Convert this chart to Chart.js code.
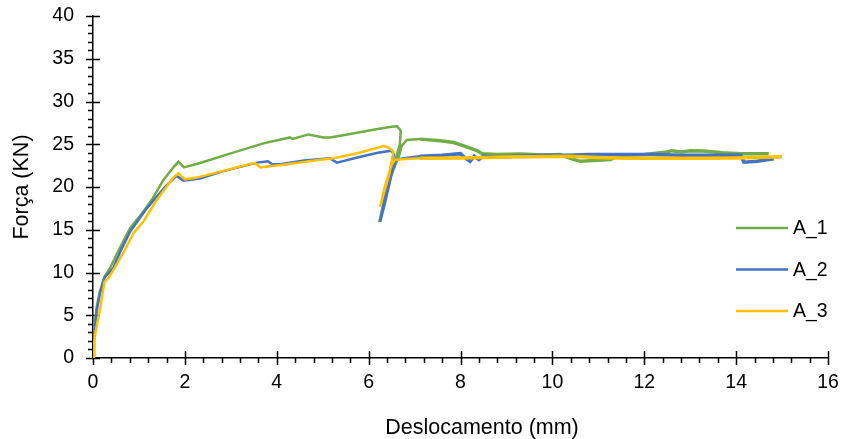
<!DOCTYPE html>
<html>
<head>
<meta charset="utf-8">
<script src="https://cdn.jsdelivr.net/npm/chart.js@4.4.1/dist/chart.umd.min.js"></script>
<style>
  html, body { margin: 0; padding: 0; background: #fff; }
  #wrap { width: 846px; height: 439px; position: relative; }
</style>
</head>
<body>
<div id="wrap"><canvas id="forceChart" width="846" height="439"></canvas></div>
<script>
// values (displacement mm / force kN)
const labelsSeries = ['A_1', 'A_2', 'A_3'];
const colors = ['#70AD47', '#4472C4', '#FFC000'];

const a1X = [0, 0.02, 0.08, 0.15, 0.25, 0.37, 0.55, 0.81, 1.05, 1.28, 1.53, 1.75, 1.86, 1.98, 2.33, 2.98, 3.71, 4.29, 4.33, 4.36, 4.69, 5.02, 5.16, 5.6, 6.1, 6.5, 6.62, 6.7, 6.68, 6.6, 6.4, 6.23, 6.3, 6.5, 6.66, 6.72, 6.83, 7.12, 7.56, 7.85, 8.07, 8.36, 8.47, 8.8, 9.3, 9.8, 10.17, 10.39, 10.61, 11.26, 11.48, 12.0, 12.5, 12.6, 12.8, 13.0, 13.29, 13.7, 14.1, 14.71];
const a1Y = [0, 3, 6, 7.8, 9.5, 10.5, 12.5, 15.2, 16.8, 18.5, 20.8, 22.3, 22.96, 22.3, 22.8, 23.9, 25.1, 25.8, 25.65, 25.65, 26.15, 25.8, 25.8, 26.2, 26.7, 27.05, 27.1, 26.6, 25.0, 23.5, 19.5, 15.9, 17.5, 21.5, 23.6, 24.8, 25.5, 25.6, 25.4, 25.2, 24.8, 24.25, 23.9, 23.8, 23.85, 23.75, 23.8, 23.35, 23.0, 23.2, 23.7, 23.8, 24.1, 24.25, 24.1, 24.25, 24.2, 24.0, 23.9, 23.9];

const a2X = [0, 0.02, 0.08, 0.15, 0.25, 0.44, 0.6, 0.81, 1.17, 1.6, 1.82, 1.97, 2.33, 2.8, 3.57, 3.81, 3.89, 4.07, 4.6, 5.16, 5.31, 5.8, 6.2, 6.5, 6.55, 6.45, 6.25, 6.35, 6.5, 6.6, 6.8, 7.12, 7.6, 8.0, 8.1, 8.21, 8.3, 8.4, 8.5, 8.72, 9.2, 9.8, 10.3, 10.8, 11.5, 12.2, 12.8, 13.5, 14.1, 14.17, 14.46, 14.82];
const a2Y = [0, 2.5, 5.5, 7.5, 9.4, 10.5, 12.5, 14.8, 17.5, 20.2, 21.3, 20.75, 21.0, 21.8, 22.85, 23.0, 22.7, 22.65, 23.1, 23.35, 22.85, 23.5, 24.0, 24.25, 23.8, 21.5, 15.9, 18.0, 21.5, 23.2, 23.4, 23.6, 23.7, 23.9, 23.4, 23.0, 23.6, 23.2, 23.6, 23.5, 23.6, 23.7, 23.7, 23.8, 23.8, 23.8, 23.7, 23.7, 23.7, 22.9, 23.0, 23.3];

const a3X = [0, 0.02, 0.05, 0.15, 0.25, 0.33, 0.47, 0.69, 0.88, 1.1, 1.39, 1.75, 1.86, 2.0, 2.26, 2.77, 3.42, 3.53, 3.64, 4.14, 4.7, 5.23, 5.8, 6.33, 6.4, 6.47, 6.54, 6.45, 6.25, 6.35, 6.5, 6.58, 6.9, 7.12, 8.0, 9.0, 10.39, 11.0, 11.63, 12.5, 13.29, 14.0, 15.0];
const a3Y = [0, 1.5, 2.9, 5.6, 8.9, 9.3, 10.5, 12.6, 14.6, 16.0, 18.5, 21.1, 21.6, 20.9, 21.1, 21.8, 22.7, 22.8, 22.3, 22.6, 23.0, 23.35, 24.0, 24.8, 24.7, 24.5, 24.1, 21.5, 17.7, 20.0, 22.6, 23.2, 23.3, 23.35, 23.4, 23.5, 23.6, 23.45, 23.35, 23.35, 23.35, 23.4, 23.55];

const xTicks = [0, 2, 4, 6, 8, 10, 12, 14, 16];
const yTicks = [0, 5, 10, 15, 20, 25, 30, 35, 40];

const FONT = "'Liberation Sans', Arial, sans-serif";

function toPoints(xs, ys) {
  return xs.map((x, i) => ({ x: x, y: ys[i] }));
}

const seriesData = [toPoints(a1X, a1Y), toPoints(a2X, a2Y), toPoints(a3X, a3Y)];

// no extra room for overflowing tick labels, plot box is fixed
function noScalePadding(s) {
  s.paddingTop = 0; s.paddingBottom = 0; s.paddingLeft = 0; s.paddingRight = 0;
}

// tick marks, axis titles and legend drawn by hand (Excel style)
const excelBits = {
  id: 'excelBits',
  beforeDatasetsDraw(chart) {
    const { ctx, chartArea, scales } = chart;
    const x = scales.x, y = scales.y;
    ctx.save();
    ctx.strokeStyle = '#000';
    ctx.lineWidth = 1.5;
    ctx.beginPath();
    // y minor every 1, major every 5
    for (let v = 0; v <= 40; v++) {
      const py = Math.round(y.getPixelForValue(v)) + 0.5;
      if (v % 5 === 0) { ctx.moveTo(chartArea.left - 7, py); ctx.lineTo(chartArea.left + 7, py); }
      else { ctx.moveTo(chartArea.left - 5, py); ctx.lineTo(chartArea.left, py); }
    }
    // x minor every 0.4, major every 2
    for (let i = 0; i <= 40; i++) {
      const v = i * 0.4;
      const px = Math.round(x.getPixelForValue(v)) + 0.5;
      if (i % 5 === 0) { ctx.moveTo(px, chartArea.bottom - 7); ctx.lineTo(px, chartArea.bottom + 7); }
      else { ctx.moveTo(px, chartArea.bottom); ctx.lineTo(px, chartArea.bottom + 5); }
    }
    ctx.stroke();
    ctx.restore();
  },
  afterDraw(chart) {
    const { ctx, chartArea } = chart;
    ctx.save();
    ctx.fillStyle = '#000';
    ctx.font = '21.5px ' + FONT;
    ctx.textAlign = 'center';
    ctx.textBaseline = 'middle';
    ctx.fillText('Deslocamento (mm)', 482, 428);
    ctx.translate(22, (chartArea.top + chartArea.bottom) / 2);
    ctx.rotate(-Math.PI / 2);
    ctx.fillText('Força (KN)', 0, 0);
    ctx.restore();

    // legend
    ctx.save();
    ctx.font = '19.5px ' + FONT;
    ctx.textAlign = 'left';
    ctx.textBaseline = 'middle';
    chart.data.datasets.forEach((ds, i) => {
      const ly = 228 + i * 41.5;
      ctx.strokeStyle = ds.borderColor;
      ctx.lineWidth = 2.5;
      ctx.beginPath();
      ctx.moveTo(736, ly);
      ctx.lineTo(788, ly);
      ctx.stroke();
      ctx.fillStyle = '#000';
      ctx.fillText(ds.label, 793, ly + 1);
    });
    ctx.restore();
  }
};

new Chart(document.getElementById('forceChart'), {
  type: 'scatter',
  data: {
    datasets: labelsSeries.map((lab, i) => ({
      label: lab,
      data: seriesData[i],
      showLine: true,
      borderColor: colors[i],
      backgroundColor: colors[i],
      borderWidth: 2.5,
      // the noisy plateau after the drop reads as a thicker band
      segment: { borderWidth: c => (c.p0.parsed.x > 6.9 && c.p1.parsed.x > 6.9 ? 3.5 : 2.5) },
      pointRadius: 0,
      tension: 0,
      order: 3 - i
    }))
  },
  options: {
    responsive: false,
    animation: false,
    layout: { padding: { left: 0, top: 16, right: 18, bottom: 0 } },
    plugins: { legend: { display: false }, tooltip: { enabled: false } },
    scales: {
      x: {
        type: 'linear',
        min: 0, max: 16,
        afterBuildTicks: (s) => { s.ticks = xTicks.map(v => ({ value: v })); },
        afterFit: (s) => { s.height = 81; noScalePadding(s); },
        grid: { display: false, drawTicks: false },
        border: { display: true, color: '#000', width: 1.5 },
        ticks: { color: '#000', padding: 13, font: { family: FONT, size: 19.5 }, maxRotation: 0 }
      },
      y: {
        type: 'linear',
        min: 0, max: 40,
        afterBuildTicks: (s) => { s.ticks = yTicks.map(v => ({ value: v })); },
        afterFit: (s) => { s.width = 93; noScalePadding(s); },
        grid: { display: false, drawTicks: false },
        border: { display: true, color: '#000', width: 1.5 },
        ticks: { color: '#000', padding: 19, font: { family: FONT, size: 19.5 } }
      }
    }
  },
  plugins: [excelBits]
});
</script>
</body>
</html>
